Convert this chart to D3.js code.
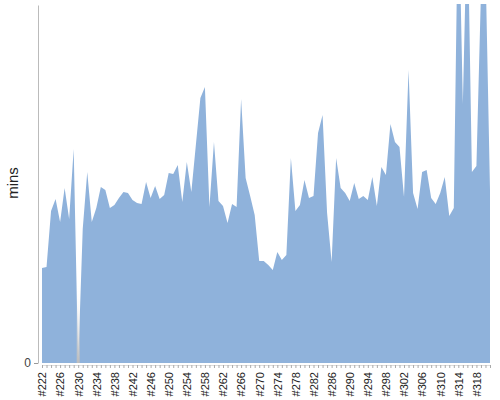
<!DOCTYPE html>
<html><head><meta charset="utf-8">
<script src="https://cdn.jsdelivr.net/npm/d3@7"></script>
<style>body{margin:0;background:#fff;}svg{display:block;font-family:"Liberation Sans",Arial,sans-serif;}</style>
</head><body><svg id="c" width="500" height="400"></svg>
<script>
const categories = d3.range(222, 322).map(n => "#" + n);
const values = [
 9.5, 9.6, 15.2, 16.4, 14.1, 17.5, 14.4, 21.4, 0, 13.4,
 19.1, 14.1, 15.5, 17.6, 17.3, 15.5, 15.8, 16.5, 17.1, 17.0,
 16.3, 16.0, 15.9, 18.1, 16.5, 17.7, 16.4, 16.8, 19.0, 18.9,
 19.8, 16.1, 20.1, 17.1, 21.8, 26.5, 27.6, 15.6, 22.1, 16.2,
 15.7, 14.0, 15.9, 15.6, 26.4, 18.5, 16.7, 14.8, 10.2, 10.2,
 9.8, 9.3, 11.1, 10.3, 10.8, 20.5, 15.2, 15.8, 18.3, 16.5,
 16.7, 23.0, 24.8, 15.0, 10.1, 20.5, 17.5, 17.0, 16.2, 18.0,
 16.4, 16.7, 16.3, 18.6, 15.7, 19.6, 18.8, 23.9, 22.1, 21.6,
 16.6, 29.3, 17.0, 15.4, 19.1, 19.3, 16.5, 15.9, 17.0, 18.6,
 14.7, 15.5, 47.8, 25.9, 45.8, 19.1, 19.7, 37.0, 40.0, 17.3
];
const yTicks = [0];
const yLabel = "mins";
const yMax = 35.8;

const svg = d3.select("#c");
const x = d3.scalePoint().domain(categories).range([42, 490]);
const y = d3.scaleLinear().domain([0, yMax]).range([363, 5]);

const defs = svg.append("defs");
defs.append("clipPath").attr("id", "clip").append("rect")
  .attr("x", 38).attr("y", 4).attr("width", 462).attr("height", 360);
const g = defs.append("linearGradient").attr("id", "gap").attr("x1", 0).attr("y1", 0).attr("x2", 0).attr("y2", 1);
g.append("stop").attr("offset", "0%").attr("stop-color", "#ffffff").attr("stop-opacity", 0);
g.append("stop").attr("offset", "100%").attr("stop-color", "#bdbdbd").attr("stop-opacity", 1);

const data = categories.map((c, i) => ({c, v: values[i]}));
const area = d3.area().x(d => x(d.c)).y0(y(0)).y1(d => y(d.v));

svg.append("g").attr("clip-path", "url(#clip)")
  .append("path").datum(data).attr("d", area).attr("fill", "#8fb2db");

// gap marker at zero values
svg.append("g").selectAll("rect").data(data.filter(d => d.v === 0)).join("rect")
  .attr("x", d => x(d.c) - 1.5).attr("width", 3)
  .attr("y", y(8)).attr("height", y(0) - y(8))
  .attr("fill", "url(#gap)");

// y axis
const ya = svg.append("g").attr("transform", "translate(38,0)")
  .call(d3.axisLeft(y).tickValues(yTicks).tickSize(4).tickSizeOuter(0));
ya.select(".domain").attr("stroke", "#bbbbbb");
ya.selectAll(".tick line").attr("stroke", "#999");
ya.selectAll(".tick text").attr("font-size", 12).attr("fill", "#444").attr("x", -7)
  .attr("font-family", "Liberation Sans, Arial, sans-serif");

svg.append("text").attr("transform", "translate(18,183) rotate(-90)")
  .attr("text-anchor", "middle").attr("font-size", 15).attr("fill", "#222").text(yLabel);

// x axis
const xa = svg.append("g").attr("transform", "translate(0,365)")
  .call(d3.axisBottom(x).tickSize(3).tickSizeOuter(0)
    .tickFormat((d, i) => i % 4 === 0 ? d : ""));
xa.select(".domain").attr("stroke", "#dddddd");
xa.selectAll(".tick line").attr("stroke", "#aaa");
xa.selectAll(".tick text")
  .attr("transform", "rotate(-90)")
  .attr("text-anchor", "end")
  .attr("x", -7).attr("y", 0).attr("dy", "0.35em")
  .attr("font-size", 11).attr("fill", "#222")
  .attr("font-family", "Liberation Sans, Arial, sans-serif");
</script></body></html>
